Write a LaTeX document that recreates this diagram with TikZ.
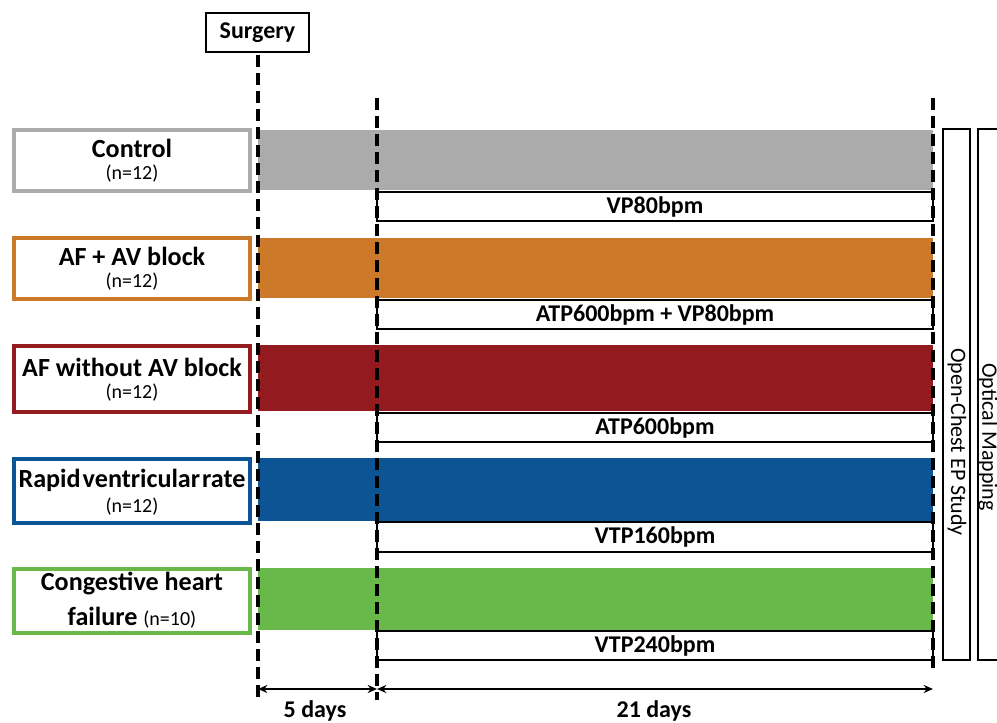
\documentclass[tikz,border=0pt]{standalone}
\usepackage{fontspec}
\setmainfont{Carlito}
\usetikzlibrary{fit,arrows.meta}
\definecolor{cgray}{HTML}{ABABAB}
\definecolor{corange}{HTML}{CC7A2A}
\definecolor{cred}{HTML}{931A1F}
\definecolor{cblue}{HTML}{0C5494}
\definecolor{cgreen}{HTML}{69B84A}
\tikzset{
  grp/.style={draw=#1, line width=2.6pt, fill=white, inner sep=0pt},
  bar/.style={fill=#1, draw=none, inner sep=0pt},
  pace/.style={draw=black, line width=1.8pt, fill=white, inner sep=0pt},
  vbox/.style={draw=black, line width=1.8pt, fill=white, inner sep=0pt},
  big/.style={font=\fontsize{18}{20}\selectfont\bfseries},
  lbl/.style={font=\fontsize{19.6}{22}\selectfont\bfseries},
  small/.style={font=\fontsize{15}{17}\selectfont},
  vtxt/.style={font=\fontsize{16.5}{18}\selectfont, rotate=-90},
  tline/.style={line width=3pt, dash pattern=on 9pt off 4.5pt},
  dim/.style={line width=1.6pt, {Stealth[length=7pt,width=6pt]}-{Stealth[length=7pt,width=6pt]}}
}
\begin{document}
\begin{tikzpicture}[x=0.75pt,y=-0.75pt]
\useasboundingbox (0,0) rectangle (997,722);
% colored bars
\node[bar=cgray,   fit={(258,130)(933,190)}] (b1) {};
\node[bar=corange, fit={(258,238)(933,298)}] (b2) {};
\node[bar=cred,    fit={(258,345)(933,411)}] (b3) {};
\node[bar=cblue,   fit={(258,458)(933,521)}] (b4) {};
\node[bar=cgreen,  fit={(258,568)(933,630)}] (b5) {};
% pacing boxes
\node[pace, fit={(377,192)(933,221)}] (p1) {};
\node[pace, fit={(377,300)(933,329)}] (p2) {};
\node[pace, fit={(377,413)(933,442)}] (p3) {};
\node[pace, fit={(377,522)(933,552)}] (p4) {};
\node[pace, fit={(377,631)(933,660)}] (p5) {};
\node[big] at (p1.center) {VP80bpm};
\node[big] at (p2.center) {ATP600bpm + VP80bpm};
\node[big] at (p3.center) {ATP600bpm};
\node[big] at (p4.center) {VTP160bpm};
\node[big] at (p5.center) {VTP240bpm};
% group boxes
\node[grp=cgray,   fit={(14,130)(250,191)}] (g1) {};
\node[grp=corange, fit={(14,238)(250,299)}] (g2) {};
\node[grp=cred,    fit={(14,346)(250,412)}] (g3) {};
\node[grp=cblue,   fit={(14,459)(250,523)}] (g4) {};
\node[grp=cgreen,  fit={(14,569)(250,633)}] (g5) {};
\node[lbl] at (132,148) {Control};
\node[small] at (132,174) {(n=12)};
\node[lbl] at (132,256) {AF + AV block};
\node[small] at (132,282) {(n=12)};
\node[lbl] at (132,367) {AF without AV block};
\node[small] at (132,393) {(n=12)};
\node[lbl] at (132,480) {Rapid\hspace{0.08em}ventricular\hspace{0.08em}rate};
\node[small] at (132,507) {(n=12)};
\node[lbl] at (132,584) {Congestive heart};
\node[lbl] at (132,618) {failure {\mdseries\fontsize{15}{17}\selectfont(n=10)}};
% surgery
\node[draw=black, line width=2.2pt, fit={(206,13)(309,52)}, inner sep=0pt] (surg) {};
\node[big] at (surg.center) {Surgery};
% timeline coordinates
\coordinate (t0top) at (258,55);
\coordinate (t0bot) at (258,700);
\coordinate (t1top) at (377,98);
\coordinate (t1bot) at (377,700);
\coordinate (t2top) at (933,98);
\coordinate (t2bot) at (933,673);
\draw[tline] (t0top) -- (t0bot);
\draw[tline] (t1top) -- (t1bot);
\draw[tline] (t2top) -- (t2bot);
% right vertical boxes
\node[vbox, fit={(943,129)(970,660)}] (v1) {};
\node[vbox, fit={(978,129)(1010,660)}] (v2) {};
\node[vtxt] at (957,442) {Open-Chest EP Study};
\node[vtxt] at (988,437) {Optical Mapping};
% durations
\coordinate (d0) at (258,689);
\coordinate (d1) at (377,689);
\coordinate (d2) at (933,689);
\draw[dim] (d0) -- (d1);
\draw[dim] (d1) -- (d2);
\node[big] at (315,711) {5 days};
\node[big] at (654,711) {21 days};
\end{tikzpicture}
\end{document}
